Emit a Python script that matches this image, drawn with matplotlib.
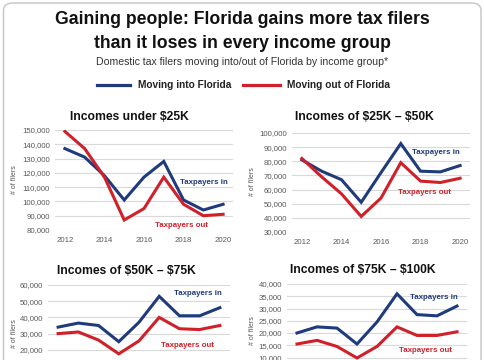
import matplotlib
matplotlib.use("Agg")
import matplotlib.pyplot as plt
from matplotlib.patches import FancyBboxPatch
from matplotlib.lines import Line2D
from matplotlib.ticker import FuncFormatter

plt.rcParams['font.family'] = ['Liberation Sans', 'DejaVu Sans']

years = [2012, 2013, 2014, 2015, 2016, 2017, 2018, 2019, 2020]

titles = ["Incomes under \\$25K", "Incomes of \\$25K \u2013 \\$50K",
          "Incomes of \\$50K \u2013 \\$75K", "Incomes of \\$75K \u2013 \\$100K"]

in_under25 = [137000, 131000, 118000, 101000, 117000, 128000, 101000, 94000, 98000]
out_under25 = [149000, 137000, 117000, 87000, 95000, 117000, 98000, 90000, 91000]

in_25_50 = [81000, 73000, 67000, 51000, 72000, 92500, 73000, 72500, 77000]
out_25_50 = [82000, 69000, 57000, 41000, 54000, 79000, 66000, 65000, 68000]

in_50_75 = [34000, 36500, 35000, 25000, 37000, 53000, 41000, 41000, 46000]
out_50_75 = [30000, 31000, 26000, 17500, 25500, 40000, 33000, 32500, 35000]

in_75_100 = [20000, 22500, 22000, 15500, 24500, 36000, 27500, 27000, 31000]
out_75_100 = [15500, 17000, 14500, 9800, 14500, 22500, 19000, 19000, 20500]

series_in = [in_under25, in_25_50, in_50_75, in_75_100]
series_out = [out_under25, out_25_50, out_50_75, out_75_100]

ylims = [(80000, 150000), (30000, 100000), (10000, 60000), (5000, 40000)]
ysteps = [10000, 10000, 10000, 5000]
ystarts = [80000, 30000, 20000, 10000]

BLUE = "#1f3b7c"
RED = "#d0202a"
GRAY = "#595959"

W, H = 485, 360
fig = plt.figure(figsize=(W / 100, H / 100), dpi=100)

def fx(px):
    return px / W

def fy(py):
    return 1 - py / H

# card border
card = FancyBboxPatch((fx(3.5), fy(420)), fx(477.5), (417 / H),
                      boxstyle="round,pad=0,rounding_size=0.02",
                      transform=fig.transFigure, facecolor="white",
                      edgecolor="#c4c4c4", linewidth=1.0, zorder=-5)
fig.patches.append(card)

fig.text(0.5, fy(20), "Gaining people: Florida gains more tax filers",
         ha="center", va="center", fontsize=12.7, fontweight="bold", color="#111111")
fig.text(0.5, fy(43), "than it loses in every income group",
         ha="center", va="center", fontsize=12.7, fontweight="bold", color="#111111")
fig.text(0.5, fy(62), "Domestic tax filers moving into/out of Florida by income group*",
         ha="center", va="center", fontsize=7.6, color="#333333")

# legend
fig.add_artist(Line2D([fx(97), fx(130)], [fy(85), fy(85)], color=BLUE, lw=2.3,
                      transform=fig.transFigure))
fig.text(fx(138), fy(85), "Moving into Florida", ha="left", va="center",
         fontsize=7.3, fontweight="bold", color="#222222")
fig.add_artist(Line2D([fx(243), fx(280)], [fy(85), fy(85)], color=RED, lw=2.3,
                      transform=fig.transFigure))
fig.text(fx(287), fy(85), "Moving out of Florida", ha="left", va="center",
         fontsize=7.3, fontweight="bold", color="#222222")

# axes boxes in pixels: left, right, top, bottom
boxes = [(55, 233, 130, 230), (292, 470, 133, 232),
         (48, 230, 285, 366), (287, 467, 284, 369.75)]
title_pos = [(129, 117), (364, 117), (126, 271), (363, 270)]
ylabel_pos = [(15, 180), (252, 182), (15, 334), (252, 331)]
in_pos = [(0.837, 0.47), (0.809, 0.808), (0.824, 0.889), (0.817, 0.848)]
out_pos = [(0.713, 0.04), (0.747, 0.404), (0.769, 0.259), (0.767, 0.23)]

fmt = FuncFormatter(lambda v, p: f"{int(v):,}")

for i in range(4):
    l, r, t, b = boxes[i]
    ax = fig.add_axes([fx(l), fy(b), (r - l) / W, (b - t) / H])
    ax.plot(years, series_in[i], color=BLUE, lw=2.2, solid_joinstyle="miter", zorder=3)
    ax.plot(years, series_out[i], color=RED, lw=2.2, solid_joinstyle="miter", zorder=3)
    ax.set_xlim(2011.5, 2020.5)
    lo, hi = ylims[i]
    ax.set_ylim(lo, hi)
    ax.set_yticks(list(range(ystarts[i], hi + 1, ysteps[i])))
    ax.yaxis.set_major_formatter(fmt)
    ax.set_xticks([2012, 2014, 2016, 2018, 2020])
    if i >= 2:
        ax.set_xticklabels([])
    ax.grid(axis="y", color="#d9d9d9", lw=0.8)
    ax.set_axisbelow(True)
    for s in ax.spines.values():
        s.set_visible(False)
    ax.tick_params(length=0, labelsize=5.6, labelcolor=GRAY)
    ax.tick_params(axis="y", pad=3.6)
    ax.tick_params(axis="x", pad=4.7)
    ax.set_facecolor("none")
    tx, ty = title_pos[i]
    fig.text(fx(tx), fy(ty), titles[i], ha="center", va="center",
             fontsize=8.7, fontweight="bold", color="#111111")
    lx, ly = ylabel_pos[i]
    fig.text(fx(lx), fy(ly), "# of filers", ha="center", va="center",
             rotation=90, fontsize=5, color=GRAY)
    ax.text(in_pos[i][0], in_pos[i][1], "Taxpayers in", transform=ax.transAxes,
            ha="center", va="center", fontsize=5.7, fontweight="bold", color=BLUE)
    ax.text(out_pos[i][0], out_pos[i][1], "Taxpayers out", transform=ax.transAxes,
            ha="center", va="center", fontsize=5.7, fontweight="bold", color=RED)

fig.savefig("out.png", dpi=100)
